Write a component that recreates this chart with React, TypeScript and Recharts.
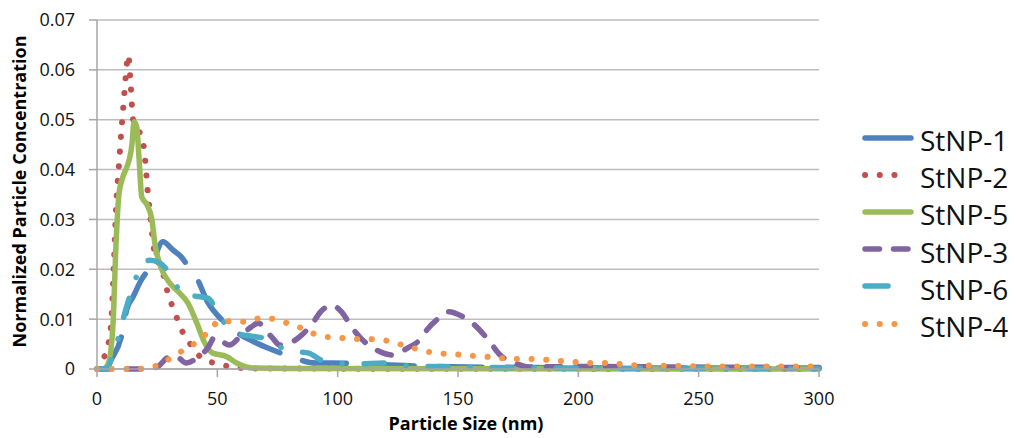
import { LineChart, Line, XAxis, YAxis, CartesianGrid, Legend } from "recharts";

// [particle size (nm), normalized concentration]
const stnp1: [number, number][] = [
  [0, 0], [3, 0], [6, 0.002], [10.4, 0.007], [12.4, 0.012], [15, 0.0145], [18, 0.0175],
  [22.8, 0.021], [27.4, 0.0255], [31.5, 0.0239], [35, 0.0225], [38, 0.0205], [41.5, 0.0182],
  [46, 0.0134], [52, 0.0098], [58.5, 0.0072], [65, 0.0055], [71, 0.0042], [80, 0.0026],
  [91, 0.0012], [98, 0.0012], [110, 0.001], [122, 0.0008], [140, 0.0005], [180, 0.0003],
  [240, 0.0002], [300, 0.0002],
];

const stnp2: [number, number][] = [
  [0, 0], [2.5, 0.002], [4.5, 0.0045], [6, 0.01], [7, 0.021], [8, 0.033], [9, 0.04],
  [10, 0.047], [11, 0.053], [12, 0.059], [13, 0.063], [14, 0.057], [15, 0.05], [17, 0.048],
  [19, 0.046], [20, 0.042], [21, 0.036], [22.5, 0.029], [24, 0.023], [27, 0.02], [29, 0.016],
  [31, 0.013], [33, 0.0105], [35, 0.008], [38, 0.0056], [41, 0.0034], [45, 0.0018],
  [51, 0.001], [57, 0.0003], [70, 0.0001], [300, 0],
];

const stnp5: [number, number][] = [
  [0, 0], [2.5, 0], [4.6, 0.001], [6.6, 0.0085], [7.9, 0.025], [9.1, 0.035], [10.8, 0.0386],
  [12.4, 0.0405], [14.5, 0.045], [15.4, 0.0496], [16.5, 0.0486], [17.5, 0.042], [18.6, 0.0345],
  [20.7, 0.033], [22.8, 0.03], [24, 0.0253], [26.5, 0.0205], [30.3, 0.0172], [34.4, 0.0152],
  [37.8, 0.0132], [41.5, 0.0092], [44.8, 0.0052], [48, 0.0032], [53.8, 0.0025], [58, 0.0012],
  [64.7, 0.0002], [80, 0.0001], [300, 0],
];

const stnp3: [number, number][] = [
  [0, 0], [20, 0], [25, 0.0004], [29, 0.0022], [31.5, 0.0027], [34, 0.0022], [37, 0.0012],
  [41.5, 0.0022], [46, 0.0042], [49, 0.0064], [55, 0.0048], [60, 0.0068], [64, 0.0084],
  [67, 0.0092], [72.6, 0.0064], [76, 0.0048], [81, 0.0054], [85, 0.0068], [89.6, 0.0092],
  [93, 0.0115], [97.5, 0.0128], [101.7, 0.0114], [105.8, 0.0084], [110, 0.006], [117, 0.0036],
  [123, 0.0028], [129, 0.0042], [134, 0.0058], [137, 0.0078], [142, 0.0102], [146, 0.0115],
  [152, 0.0105], [156, 0.0092], [162, 0.0062], [168, 0.0026], [173, 0.0013], [180, 0.0004],
  [200, 0.0005], [240, 0.0004], [300, 0.0003],
];

const stnp6: [number, number][] = [
  [0, 0], [4, 0], [6, 0.002], [9, 0.0065], [12, 0.012], [15, 0.0165], [19, 0.0213],
  [22, 0.0218], [25, 0.0215], [28, 0.0205], [31, 0.0185], [36, 0.0148], [41, 0.0146],
  [46, 0.0142], [52, 0.0098], [58, 0.0072], [64, 0.0066], [69, 0.0062], [73, 0.0052],
  [77, 0.0042], [83, 0.0035], [88, 0.0032], [93, 0.0018], [98, 0.0012], [108, 0.001],
  [119, 0.0012], [130, 0.0006], [150, 0.0004], [200, 0.0002], [300, 0.0001],
];

const stnp4: [number, number][] = [
  [0, 0], [16, 0], [23, 0.0004], [28, 0.0014], [33, 0.003], [38, 0.0043], [43, 0.006],
  [47, 0.0078], [51, 0.0097], [57, 0.0095], [62, 0.0095], [68, 0.0102], [74, 0.01],
  [79, 0.0092], [85, 0.0082], [90, 0.0071], [96, 0.0064], [102, 0.0062], [108, 0.006],
  [113, 0.006], [119, 0.0058], [124, 0.0052], [130, 0.0044], [136, 0.0036], [141, 0.0032],
  [147, 0.003], [153, 0.0028], [159, 0.0025], [164, 0.0024], [170, 0.0021], [176, 0.002],
  [182, 0.002], [188, 0.0018], [193, 0.0016], [199, 0.0014], [205, 0.0012], [211, 0.0012],
  [217, 0.001], [222, 0.0008], [228, 0.0007], [240, 0.0006], [260, 0.0005], [280, 0.0005],
  [300, 0.0005],
];

const xTicks = [0, 50, 100, 150, 200, 250, 300];
const yTicks = [0, 0.01, 0.02, 0.03, 0.04, 0.05, 0.06, 0.07];

const toPoints = (pairs: [number, number][]) => pairs.map(([size, conc]) => ({ size, conc }));

const FONT = "'Open Sans', sans-serif";

// drawing order = legend order
const series = [
  { name: "StNP-1", pairs: stnp1, color: "#4F81BD", dash: "44 24", legendLen: 46, legendDash: undefined },
  { name: "StNP-2", pairs: stnp2, color: "#C0504D", dash: "0.1 14.6", legendLen: 30, legendDash: "0.1 14.6" },
  { name: "StNP-5", pairs: stnp5, color: "#9BBB59", dash: undefined, legendLen: 46, legendDash: undefined },
  { name: "StNP-3", pairs: stnp3, color: "#8064A2", dash: "14.5 15", legendLen: 46, legendDash: "14.5 14" },
  { name: "StNP-6", pairs: stnp6, color: "#4BACC6", dash: "20 22 0.1 22", legendLen: 23, legendDash: undefined },
  { name: "StNP-4", pairs: stnp4, color: "#F79646", dash: "0.1 14.6", legendLen: 30, legendDash: "0.1 14.6" },
];

const renderLegend = () => (
  <div style={{ width: 192, height: 240, paddingTop: 16, paddingLeft: 43, boxSizing: "border-box" }}>
    {series.map((s) => (
      <div key={s.name} style={{ height: 37.2, display: "flex", alignItems: "center" }}>
        <svg width={52} height={12} style={{ display: "block" }}>
          <line
            x1={3}
            y1={6}
            x2={3 + s.legendLen}
            y2={6}
            stroke={s.color}
            strokeWidth={s.legendDash && s.legendDash.startsWith("0.1") ? 6 : 5.5}
            strokeLinecap="round"
            strokeDasharray={s.legendDash}
          />
        </svg>
        <span
          style={{ fontFamily: FONT, fontSize: 28, color: "#111", marginLeft: 6, marginTop: 5, lineHeight: 1 }}
        >
          {s.name}
        </span>
      </div>
    ))}
  </div>
);

const renderXTitle = (props: any) => {
  const { x, y, width } = props.viewBox;
  return (
    <text
      x={x + width / 2 + 8}
      y={y + 61}
      textAnchor="middle"
      style={{ fontFamily: FONT, fontSize: 18, fontWeight: 700, fill: "#000" }}
    >
      Particle Size (nm)
    </text>
  );
};

const renderYTitle = (props: any) => {
  const { y, height } = props.viewBox;
  const cx = 11;
  const cy = y + height / 2 - 3;
  return (
    <text
      x={cx}
      y={cy}
      transform={`rotate(-90, ${cx}, ${cy})`}
      textAnchor="middle"
      dominantBaseline="central"
      style={{ fontFamily: FONT, fontSize: 18, fontWeight: 700, fill: "#000" }}
    >
      Normalized Particle Concentration
    </text>
  );
};

export default function App() {
  const tickStyle = { fontFamily: FONT, fontSize: 18, fill: "#111" };
  return (
    <LineChart width={1008} height={430} margin={{ top: 12, right: 5, bottom: 0, left: 0 }}>
      <CartesianGrid vertical={false} stroke="#bdbdbd" strokeWidth={1.5} />
      <XAxis
        type="number"
        dataKey="size"
        domain={[0, 300]}
        ticks={xTicks}
        interval={0}
        height={69}
        tickSize={8}
        tickMargin={15}
        stroke="#a6a6a6"
        strokeWidth={1.5}
        tick={tickStyle}
        label={{ content: renderXTitle }}
      />
      <YAxis
        type="number"
        domain={[0, 0.07]}
        ticks={yTicks}
        interval={0}
        width={89}
        tickSize={8}
        tickMargin={14}
        stroke="#a6a6a6"
        strokeWidth={1.5}
        tick={tickStyle}
        tickFormatter={(v: number) => (v === 0 ? "0" : v.toFixed(2))}
        label={{ content: renderYTitle }}
      />
      <Legend layout="vertical" align="right" verticalAlign="middle" content={renderLegend} />
      {series.map((s) => (
        <Line
          key={s.name}
          name={s.name}
          data={toPoints(s.pairs)}
          dataKey="conc"
          type="monotone"
          stroke={s.color}
          strokeWidth={s.dash && s.dash.startsWith("0.1") ? 6 : 5.5}
          strokeLinecap="round"
          strokeDasharray={s.dash}
          dot={false}
          activeDot={false}
          isAnimationActive={false}
        />
      ))}
    </LineChart>
  );
}
